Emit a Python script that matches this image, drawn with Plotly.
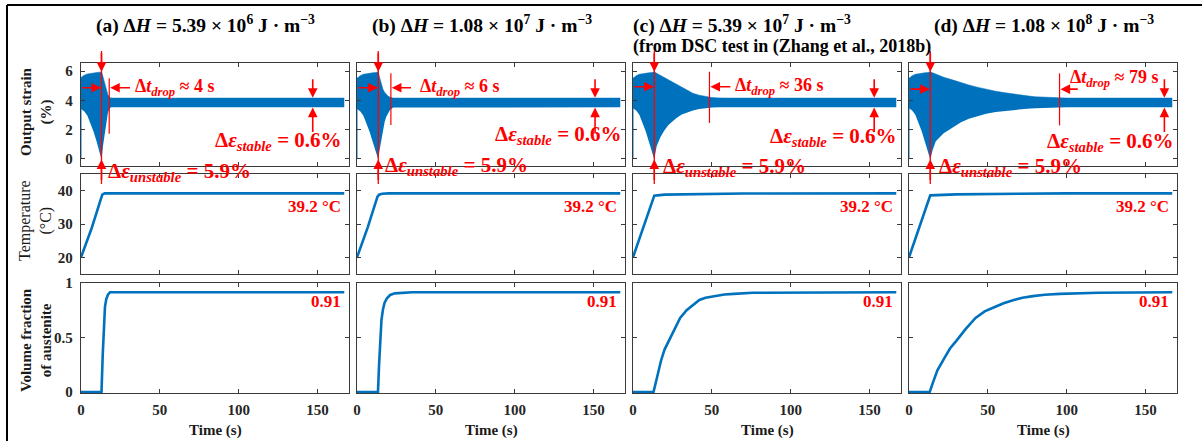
import plotly.graph_objects as go

W, H = 1202, 441
BLUE = "#0072BD"
LIGHT_BLUE = "#4FA3E3"
RED = "#FF0000"
AXC = "#3a3a3a"
SERIF = "Liberation Serif, Times New Roman, serif"

# ---------------- data ----------------
panel_letters = ["a", "b", "c", "d"]
dH_mantissa = ["5.39", "1.08", "5.39", "1.08"]
dH_exponent = ["6", "7", "7", "8"]
title_note_c = "(from DSC test in (Zhang et al., 2018b)"

time_ticks = [0, 50, 100, 150]
strain_ticks = [0, 2, 4, 6]
temp_ticks = [20, 30, 40]
vf_ticks = [0, 0.5, 1]
vf_tick_text = ["0", "0.5", "1"]

# output strain: envelope (upper / lower bound) of the oscillating strain signal
t_env_a = [0, 2, 4, 6, 8, 10, 12, 13, 14, 15, 16, 17, 18, 19, 167]
up_env_a = [5.55, 5.72, 5.8, 5.85, 5.88, 5.9, 5.92, 5.95, 5.6, 5.2, 4.75, 4.4, 4.22, 4.15, 4.15]
lo_env_a = [3.4, 3.25, 2.95, 2.45, 1.85, 1.15, 0.4, -0.05, 0.9, 1.75, 2.55, 3.1, 3.4, 3.52, 3.52]

t_env_b = [0, 2, 4, 6, 8, 10, 12, 13.5, 14.5, 15.5, 16.5, 17.5, 18.5, 19.5, 21, 23, 167]
up_env_b = [5.5, 5.68, 5.78, 5.83, 5.86, 5.88, 5.9, 5.95, 5.5, 5.05, 4.75, 4.55, 4.4, 4.3, 4.2, 4.15, 4.15]
lo_env_b = [3.4, 3.25, 2.95, 2.45, 1.85, 1.15, 0.45, -0.05, 0.7, 1.4, 2.0, 2.5, 2.85, 3.1, 3.35, 3.5, 3.52]

t_env_c = [0, 2, 4, 6, 8, 10, 12, 13.5, 15, 17.5, 20, 22.5, 25, 28, 31, 34, 38, 42, 46, 50, 55, 60, 167]
up_env_c = [5.5, 5.68, 5.78, 5.83, 5.86, 5.88, 5.9, 5.95, 5.85, 5.7, 5.55, 5.4, 5.25, 5.05, 4.88, 4.72, 4.48, 4.35, 4.26, 4.19, 4.16, 4.15, 4.15]
lo_env_c = [3.45, 3.3, 3.0, 2.5, 1.9, 1.2, 0.45, -0.05, 0.85, 1.5, 1.95, 2.3, 2.55, 2.82, 3.02, 3.16, 3.3, 3.4, 3.46, 3.5, 3.52, 3.52, 3.52]

t_env_d = [0, 2, 4, 6, 8, 10, 12, 13.5, 15, 17, 22, 28, 33, 38, 44, 49, 55, 60, 65, 70, 75, 80, 86, 92, 100, 167]
up_env_d = [5.5, 5.68, 5.78, 5.83, 5.86, 5.88, 5.9, 5.95, 5.88, 5.78, 5.58, 5.38, 5.2, 5.04, 4.88, 4.75, 4.62, 4.53, 4.44, 4.36, 4.3, 4.24, 4.2, 4.17, 4.15, 4.15]
lo_env_d = [3.45, 3.3, 3.0, 2.5, 1.9, 1.2, 0.45, -0.05, 0.6, 1.2, 1.75, 2.17, 2.5, 2.74, 2.95, 3.08, 3.2, 3.26, 3.33, 3.38, 3.42, 3.45, 3.48, 3.5, 3.52, 3.52]

# initial transient at t = 0
t_initial = [0, 0]
strain_initial = [0.0, 5.5]

# characteristic times
t_peak = [13.0, 13.5, 13.5, 13.5]
t_drop_end = [17.9, 21.5, 48.5, 95.5]
drop_seconds = [4, 6, 36, 79]
t_stable_mark = [147, 151, 153, 162]
strain_peak = 5.95
strain_min = -0.05
stable_top = 4.17
stable_bottom = 3.5
unstable_pct = 5.9
stable_pct = 0.6

# temperature (°C)
t_temp_a = [0, 6.8, 13.5, 15, 167]
temp_a = [20, 28.8, 38.8, 39.2, 39.2]
t_temp_b = [0, 6.8, 13, 14, 16, 20, 167]
temp_b = [20, 29, 38.2, 38.8, 39.1, 39.2, 39.2]
t_temp_c = [0, 6.8, 13.5, 20, 40, 70, 167]
temp_c = [20, 29.2, 38.5, 38.8, 39.0, 39.15, 39.2]
t_temp_d = [0, 6.8, 13.5, 30, 60, 100, 167]
temp_d = [20, 29.3, 38.6, 38.9, 39.1, 39.2, 39.2]
temp_final = 39.2

# volume fraction of austenite
t_vf_a = [0, 13, 13.8, 14.5, 15.2, 16, 17, 18.4, 167]
vf_a = [0, 0, 0.35, 0.65, 0.78, 0.85, 0.89, 0.915, 0.915]
t_vf_b = [0, 13.3, 14, 14.7, 15.5, 16.5, 17.5, 19, 21, 24, 28, 35, 167]
vf_b = [0, 0, 0.25, 0.5, 0.66, 0.76, 0.82, 0.86, 0.89, 0.905, 0.91, 0.915, 0.915]
t_vf_c = [0, 13, 15, 17.8, 20, 22.6, 26, 29.9, 34, 38, 42.1, 46, 51.8, 58, 64, 76, 167]
vf_c = [0, 0, 0.12, 0.29, 0.39, 0.47, 0.57, 0.68, 0.75, 0.8, 0.845, 0.865, 0.88, 0.895, 0.9, 0.91, 0.915]
t_vf_d = [0, 13.1, 15, 18, 22.8, 26, 30, 36, 42.2, 48, 54.4, 60, 66.5, 72, 78.6, 86, 95.6, 110, 120, 167]
vf_d = [0, 0, 0.08, 0.2, 0.32, 0.4, 0.47, 0.58, 0.68, 0.74, 0.78, 0.815, 0.845, 0.865, 0.88, 0.893, 0.9, 0.908, 0.91, 0.915]
vf_final = 0.91

envelopes = [(t_env_a, up_env_a, lo_env_a), (t_env_b, up_env_b, lo_env_b),
             (t_env_c, up_env_c, lo_env_c), (t_env_d, up_env_d, lo_env_d)]
temps = [(t_temp_a, temp_a), (t_temp_b, temp_b), (t_temp_c, temp_c), (t_temp_d, temp_d)]
vfs = [(t_vf_a, vf_a), (t_vf_b, vf_b), (t_vf_c, vf_c), (t_vf_d, vf_d)]

# ---------------- layout geometry (pixels) ----------------
col_px = [(81, 349), (357, 625), (633, 901), (909, 1177)]
row_px = [(63, 166), (174, 274), (283, 393)]
x_range = [0, 170]
y_ranges = [[-0.5, 6.55], [15, 45], [-0.008, 1.0]]

# per panel annotation layout (positions in data / pixel units)
arrow_y = [4.86, 4.86, 4.92, 4.76]
left_arrow_tail = [32, 35.2, 62.7, 108]
drop_text_pos = [(33, 4.86), (38.4, 4.86), (63.7, 4.92), (100.6, 5.5)]
drop_line_span = [(5.5, 1.7), (5.84, 2.3), (5.95, 2.45), (5.84, 2.28)]
stable_text_pos = [(167, 1.23), (169.5, 1.6), (169, 1.5), (169.5, 1.16)]
unstable_text_pos = [(16.0, 172), (16.5, 166), (17.5, 167), (18.0, 167)]
title_left_px = [94, 370, 631, 932]


def xd(px):
    return px / W


def yd(py):
    return 1 - py / H


def sid(r, c):
    k = r * 4 + c + 1
    return "" if k == 1 else str(k)


fig = go.Figure()

axis_common = dict(
    showline=True, linecolor=AXC, linewidth=1.2, mirror="allticks",
    ticks="inside", ticklen=4, tickwidth=1, tickcolor=AXC,
    showgrid=False, zeroline=False, fixedrange=True, automargin=False,
    tickfont=dict(family=SERIF, size=15, color="#262626", weight="bold"),
)

layout_axes = {}
for r in range(3):
    for c in range(4):
        s = sid(r, c)
        layout_axes["xaxis" + s] = dict(
            axis_common, domain=[xd(col_px[c][0]), xd(col_px[c][1])],
            range=x_range, anchor="y" + s, tickvals=time_ticks,
            showticklabels=(r == 2), ticklabelstandoff=3)
        yt = [strain_ticks, temp_ticks, vf_ticks][r]
        ya = dict(axis_common, domain=[yd(row_px[r][1]), yd(row_px[r][0])],
                  range=y_ranges[r], anchor="x" + s, tickvals=yt,
                  showticklabels=(c == 0), ticklabelstandoff=4)
        if r == 2:
            ya["ticktext"] = vf_tick_text
        layout_axes["yaxis" + s] = ya

# ---------------- traces ----------------
for c in range(4):
    s0, s1, s2 = sid(0, c), sid(1, c), sid(2, c)
    te, up, lo = envelopes[c]
    fig.add_trace(go.Scatter(x=t_initial, y=strain_initial, mode="lines",
                             line=dict(color=LIGHT_BLUE, width=1.5),
                             xaxis="x" + s0, yaxis="y" + s0, showlegend=False))
    fig.add_trace(go.Scatter(x=te, y=lo, mode="lines", line=dict(width=0, color=BLUE),
                             xaxis="x" + s0, yaxis="y" + s0, showlegend=False))
    fig.add_trace(go.Scatter(x=te, y=up, mode="lines", line=dict(width=0.5, color=BLUE),
                             fill="tonexty", fillcolor=BLUE,
                             xaxis="x" + s0, yaxis="y" + s0, showlegend=False))
    tt, tv = temps[c]
    fig.add_trace(go.Scatter(x=tt, y=tv, mode="lines", line=dict(color=BLUE, width=2.6),
                             xaxis="x" + s1, yaxis="y" + s1, showlegend=False))
    vt, vv = vfs[c]
    fig.add_trace(go.Scatter(x=vt, y=vv, mode="lines", line=dict(color=BLUE, width=2.6),
                             xaxis="x" + s2, yaxis="y" + s2, showlegend=False))

# ---------------- annotations & shapes ----------------
ann = []
shapes = []
red_font = dict(family=SERIF, color=RED, weight="bold")


def arrow(s, x, y, ax, ay, data_tail=False):
    d = dict(x=x, y=y, ax=ax, ay=ay, xref="x" + s, yref="y" + s,
             showarrow=True, arrowhead=2, arrowsize=1.2, arrowwidth=1.6,
             arrowcolor=RED, standoff=0, startstandoff=0, text="")
    if data_tail:
        d["axref"] = "x" + s
        d["ayref"] = "y" + s
    return d


for c in range(4):
    s = sid(0, c)
    tp = t_peak[c]
    # long vertical line through the peak
    shapes.append(dict(type="line", xref="x" + s, yref="paper", x0=tp, x1=tp,
                       y0=yd(51), y1=yd(184), line=dict(color=RED, width=1.3)))
    ann.append(arrow(s, tp, strain_peak, 0, -20))
    ann.append(arrow(s, tp, strain_min, 0, 22))
    # horizontal arrows around the drop interval
    ann.append(arrow(s, tp - 0.3, arrow_y[c], 0, arrow_y[c], data_tail=True))
    ann.append(arrow(s, t_drop_end[c] + 0.6, arrow_y[c], left_arrow_tail[c], arrow_y[c], data_tail=True))
    shapes.append(dict(type="line", xref="x" + s, yref="y" + s,
                       x0=t_drop_end[c], x1=t_drop_end[c],
                       y0=drop_line_span[c][0], y1=drop_line_span[c][1],
                       line=dict(color=RED, width=1.2)))
    tx, ty = drop_text_pos[c]
    ann.append(dict(x=tx, y=ty, xref="x" + s, yref="y" + s, xanchor="left", yanchor="middle",
                    showarrow=False, font=dict(red_font, size=18),
                    text="Δ<i>t</i><sub><i>drop</i></sub> ≈ %d s" % drop_seconds[c]))
    # stable amplitude arrows
    ts = t_stable_mark[c]
    ann.append(arrow(s, ts, stable_top, 0, -20))
    ann.append(arrow(s, ts, stable_bottom, 0, 26))
    sx, sy = stable_text_pos[c]
    ann.append(dict(x=sx, y=sy, xref="x" + s, yref="y" + s, xanchor="right", yanchor="middle",
                    showarrow=False, font=dict(red_font, size=21),
                    text="Δ<i>ε</i><sub><i>stable</i></sub> = %.1f%%" % stable_pct))
    ux, uy = unstable_text_pos[c]
    ann.append(dict(x=ux, y=yd(uy), xref="x" + s, yref="paper", xanchor="left", yanchor="middle",
                    showarrow=False, font=dict(red_font, size=21),
                    text="Δ<i>ε</i><sub><i>unstable</i></sub> = %.1f%%" % unstable_pct))
    # temperature and volume fraction labels
    s1, s2 = sid(1, c), sid(2, c)
    ann.append(dict(x=166, y=35.3, xref="x" + s1, yref="y" + s1, xanchor="right", yanchor="middle",
                    showarrow=False, font=dict(red_font, size=17),
                    text="%.1f °C" % temp_final))
    ann.append(dict(x=166, y=0.83, xref="x" + s2, yref="y" + s2, xanchor="right", yanchor="middle",
                    showarrow=False, font=dict(red_font, size=17),
                    text="%.2f" % vf_final))
    # x-axis title
    ann.append(dict(x=xd((col_px[c][0] + col_px[c][1]) / 2), y=yd(430), xref="paper", yref="paper",
                    xanchor="center", yanchor="middle",
                    showarrow=False, text="Time (s)",
                    font=dict(family=SERIF, size=15, color="#1a1a1a", weight="bold")))
    # panel titles
    ttl = "(%s) Δ<i>H</i> = %s × 10<sup>%s</sup> J · m<sup>−3</sup>" % (
        panel_letters[c], dH_mantissa[c], dH_exponent[c])
    ann.append(dict(x=xd(title_left_px[c]), y=yd(25), xref="paper", yref="paper",
                    xanchor="left", yanchor="middle", showarrow=False, text=ttl,
                    font=dict(family=SERIF, size=19.5, color="#000000", weight="bold")))

ann.append(dict(x=xd(631), y=yd(47), xref="paper", yref="paper", xanchor="left", yanchor="middle",
                showarrow=False, text=title_note_c,
                font=dict(family=SERIF, size=18, color="#000000", weight="bold")))

# y-axis titles
ylab_font_b = dict(family=SERIF, size=15, color="#1a1a1a", weight="bold")
ann.append(dict(x=xd(36), y=yd(112), xref="paper", yref="paper", textangle=-90,
                xanchor="center", yanchor="middle",
                showarrow=False, text="Output strain<br>(%)", font=ylab_font_b))
ann.append(dict(x=xd(36), y=yd(221), xref="paper", yref="paper", textangle=-90,
                xanchor="center", yanchor="middle",
                showarrow=False, text="Temperature<br>(°C)",
                font=dict(family=SERIF, size=16, color="#1a1a1a")))
ann.append(dict(x=xd(36), y=yd(340), xref="paper", yref="paper", textangle=-90,
                xanchor="center", yanchor="middle",
                showarrow=False, text="Volume fraction<br>of austenite", font=ylab_font_b))

# outer frame lines
shapes.append(dict(type="line", xref="paper", yref="paper", x0=xd(7), x1=1, y0=yd(5), y1=yd(5),
                   line=dict(color="#000000", width=2)))
shapes.append(dict(type="line", xref="paper", yref="paper", x0=xd(7), x1=xd(7), y0=yd(5), y1=0,
                   line=dict(color="#000000", width=2)))

fig.update_layout(
    width=W, height=H, margin=dict(l=0, r=0, t=0, b=0),
    paper_bgcolor="white", plot_bgcolor="white",
    showlegend=False, annotations=ann, shapes=shapes,
    **layout_axes,
)

fig.write_html(
    "out.html",
    config={"responsive": False, "displayModeBar": False, "staticPlot": True},
    post_script="document.body.style.margin='0px';document.body.style.padding='0px';",
)
